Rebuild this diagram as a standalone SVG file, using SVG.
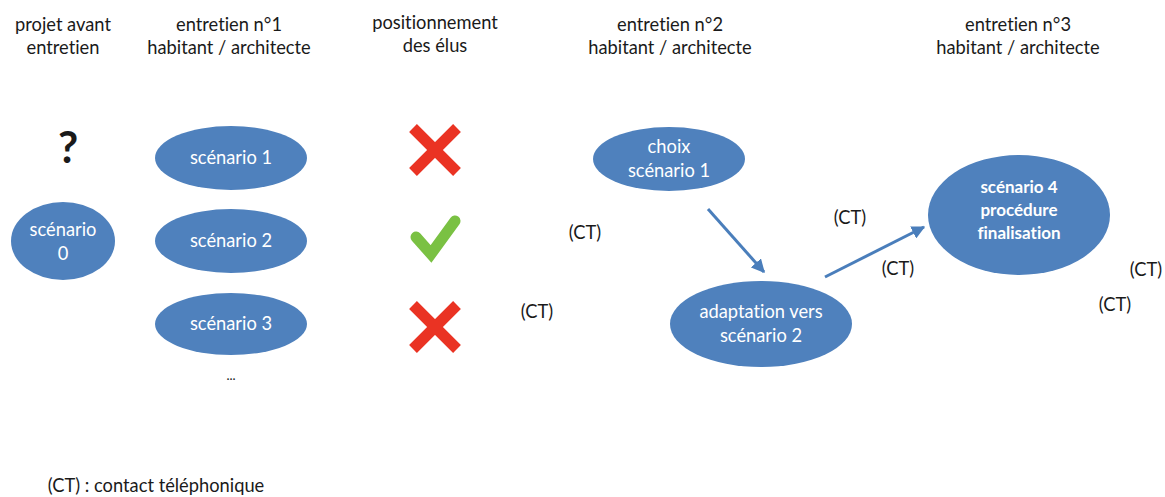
<svg xmlns="http://www.w3.org/2000/svg" width="1165" height="497" viewBox="0 0 1165 497">
<style>
text{font-family:Lato,"Open Sans","DejaVu Sans",sans-serif;font-size:18.3px;fill:#1a1a1a;text-anchor:middle;font-variant-ligatures:none}
.n ellipse{fill:#4f81bd}
.n text{fill:#ffffff}
.b{font-weight:bold;font-size:17px}
.x{stroke:#ea3323;stroke-width:11;stroke-linecap:butt}
.v{stroke:#7ac143;stroke-width:11;fill:none;stroke-linecap:round;stroke-linejoin:miter}
.c{stroke:#4a7ebb;stroke-width:3;fill:none}
</style>
<defs>
<marker id="ah" viewBox="0 0 10 10" refX="9" refY="5" markerWidth="4.5" markerHeight="4.5" orient="auto" markerUnits="strokeWidth">
<path d="M0,0 L10,5 L0,10 z" fill="#4a7ebb"/>
</marker>
</defs>
<g id="headers">
<text x="63" y="31">projet avant</text><text x="63" y="54">entretien</text>
<text x="229" y="31">entretien n°1</text><text x="229" y="54">habitant / architecte</text>
<text x="435" y="29">positionnement</text><text x="435" y="52">des élus</text>
<text x="670" y="31">entretien n°2</text><text x="670" y="54">habitant / architecte</text>
<text x="1018" y="31">entretien n°3</text><text x="1018" y="54">habitant / architecte</text>
</g>
<g id="question"><text x="68" y="163" style="font-size:44px;font-weight:bold">?</text></g>
<g id="s0" class="n"><ellipse cx="63" cy="241" rx="52" ry="39"/><text x="63" y="236">scénario</text><text x="63" y="260">0</text></g>
<g id="s1" class="n"><ellipse cx="231" cy="158" rx="76" ry="32"/><text x="231" y="164">scénario 1</text></g>
<g id="s2" class="n"><ellipse cx="231" cy="241" rx="76" ry="32"/><text x="231" y="247">scénario 2</text></g>
<g id="s3" class="n"><ellipse cx="231" cy="324" rx="76" ry="31"/><text x="231" y="330">scénario 3</text></g>
<g id="dots"><text x="231" y="380" style="font-size:13px">...</text></g>
<g id="x1"><line class="x" x1="413" y1="128" x2="457" y2="172"/><line class="x" x1="457" y1="128" x2="413" y2="172"/></g>
<g id="ok"><polyline class="v" points="416,237 431,254 455,221"/></g>
<g id="x2"><line class="x" x1="413" y1="305" x2="457" y2="349"/><line class="x" x1="457" y1="305" x2="413" y2="349"/></g>
<g id="c1" class="n"><ellipse cx="669" cy="159" rx="76" ry="32"/><text x="669" y="153">choix</text><text x="669" y="177">scénario 1</text></g>
<g id="c2" class="n"><ellipse cx="761" cy="324" rx="91" ry="43"/><text x="761" y="318">adaptation vers</text><text x="761" y="342">scénario 2</text></g>
<g id="c3" class="n"><ellipse cx="1019" cy="215" rx="91" ry="60"/><text class="b" x="1019" y="193">scénario 4</text><text class="b" x="1019" y="216">procédure</text><text class="b" x="1019" y="239">finalisation</text></g>
<g id="connectors">
<line class="c" x1="708" y1="209" x2="764" y2="272" marker-end="url(#ah)"/>
<line class="c" x1="825" y1="277" x2="924" y2="227" marker-end="url(#ah)"/>
</g>
<g id="ct">
<text x="585" y="239">(CT)</text>
<text x="537" y="318">(CT)</text>
<text x="850" y="224">(CT)</text>
<text x="898" y="275">(CT)</text>
<text x="1146" y="276">(CT)</text>
<text x="1115" y="311">(CT)</text>
</g>
<g id="legend"><text x="156" y="492">(CT) : contact téléphonique</text></g>
</svg>
